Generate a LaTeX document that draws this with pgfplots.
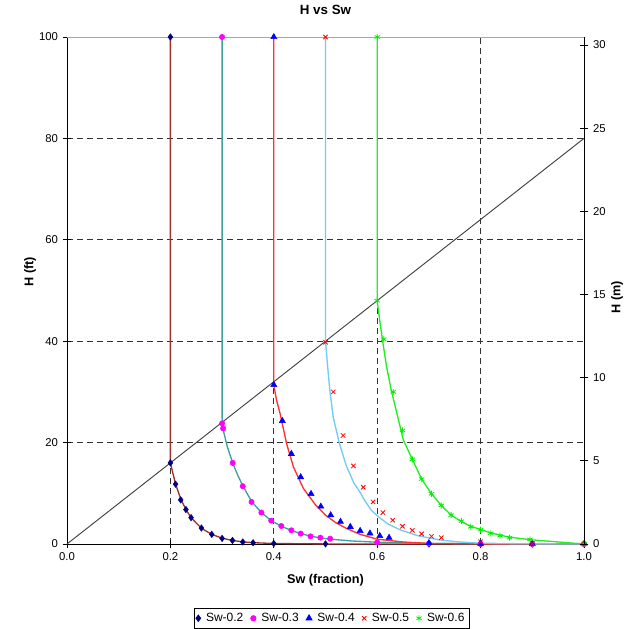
\documentclass[border=0pt]{standalone}
\usepackage{fontspec}
\setmainfont{Liberation Sans}
\usepackage{pgfplots}
\pgfplotsset{compat=1.18}

% marker colours
\definecolor{mkA}{HTML}{000080}
\definecolor{mkB}{HTML}{FF00FF}
\definecolor{mkC}{HTML}{0000FF}
\definecolor{mkD}{HTML}{FF0000}
\definecolor{mkE}{HTML}{00EE00}
% curve colours
\definecolor{lnA}{HTML}{A03030}
\definecolor{lnB}{HTML}{40A0A0}
\definecolor{lnC}{HTML}{FF3030}
\definecolor{lnD}{HTML}{70CCF0}
\definecolor{lnE}{HTML}{22EE22}

\begin{document}
\begin{tikzpicture}
\useasboundingbox (-50.25pt,-63.75pt) rectangle (432.75pt,408pt);

\begin{axis}[
  at={(0,0)}, anchor=south west,
  scale only axis, width=387.75pt, height=380.25pt,
  xmin=0, xmax=1, ymin=0, ymax=100,
  clip=false,
  axis x line*=bottom, axis y line*=left,
  axis line style={black, line width=0.7pt},
  xtick={0,0.2,...,1.0}, ytick={0,20,...,100},
  minor xtick={0.2,0.4,0.6,0.8}, minor ytick={20,40,60,80},
  grid=minor,
  minor grid style={black!80, line width=0.8pt, dash pattern=on 4.5pt off 3pt},
  minor tick length=0pt,
  tick align=center, major tick length=6.5pt,
  tick style={black, line width=0.7pt},
  /pgf/number format/assume math mode=true,
  tick label style={font=\fontsize{8.5}{10}\selectfont},
  xticklabel style={/pgf/number format/.cd, fixed, fixed zerofill, precision=1},
  yticklabel style={/pgf/number format/.cd, fixed, precision=0},
  title={\textbf{H vs Sw}},
  title style={at={(0.5,1)}, anchor=center, yshift=14pt, font=\fontsize{10}{12}\selectfont},
  xlabel={\textbf{Sw (fraction)}},
  xlabel style={at={(0.5,0)}, anchor=center, yshift=-27pt, font=\fontsize{9.5}{11}\selectfont},
  ylabel={\textbf{H (ft)}},
  ylabel style={at={(0,0.5)}, anchor=center, yshift=27.75pt, xshift=14pt, font=\fontsize{9.5}{11}\selectfont},
  legend style={at={(0.5,0)}, anchor=north, xshift=4.5pt, yshift=-48pt,
    legend columns=5, draw=black, line width=0.6pt,
    font=\fontsize{9}{10}\selectfont, inner sep=1.5pt,
    /tikz/every even column/.append style={column sep=3.5pt},
    /tikz/every odd column/.append style={column sep=2pt}},
  legend cell align=left,
]
% frame along the top of the plot area
\draw[gray!70, line width=0.6pt] (rel axis cs:0,1) -- (rel axis cs:1,1);

% reference line H = 80 Sw
\addplot[forget plot, black!75, line width=0.7pt] coordinates {(0,0) (1,80)};

% capillary curves
\addplot[forget plot, lnA, line width=1pt] coordinates {
 (0.2,100) (0.2,16) (0.21,11.8) (0.22,8.9) (0.23,6.8) (0.24,5.2) (0.26,3.1)
 (0.28,1.9) (0.30,1.15) (0.32,0.7) (0.34,0.42) (0.36,0.26) (0.40,0.1)
 (0.5,0.01) (1.0,0)};
\addplot[forget plot, lnB, line width=1pt] coordinates {
 (0.3,100) (0.3,25) (0.302,22.6) (0.31,19.2) (0.3205,16.0) (0.33,13.6)
 (0.34,11.5) (0.357,8.4) (0.376,6.2) (0.395,4.6) (0.415,3.5) (0.434,2.65)
 (0.452,2.05) (0.471,1.55) (0.49,1.2) (0.51,0.95) (0.55,0.6) (0.6,0.35)
 (0.7,0.12) (0.8,0.04) (0.9,0.01) (1.0,0)};
\addplot[forget plot, lnC, line width=1pt] coordinates {
 (0.4,100) (0.4,31.4) (0.405,28.5) (0.412,25.8) (0.425,19.7) (0.438,15.2)
 (0.457,11.0) (0.48,7.8) (0.50,5.7) (0.52,4.2) (0.54,3.1) (0.567,1.9)
 (0.60,0.95) (0.65,0.4) (0.70,0.12) (0.8,0.03) (1.0,0)};
\addplot[forget plot, lnD, line width=1pt] coordinates {
 (0.5,100) (0.5,40) (0.505,34) (0.5087,30) (0.515,25) (0.527,19.8)
 (0.54,15.5) (0.555,12) (0.567,10.2) (0.575,8.7) (0.589,6.6) (0.602,5.4)
 (0.62,4.0) (0.644,2.8) (0.68,1.6) (0.721,0.8) (0.76,0.4) (0.8,0.15)
 (0.9,0.03) (1.0,0)};
\addplot[forget plot, lnE, line width=1pt] coordinates {
 (0.6,100) (0.6,48) (0.605,44) (0.6106,40) (0.618,35) (0.628,30)
 (0.6506,20.5) (0.667,16.9) (0.686,12.8) (0.705,9.9) (0.725,7.5)
 (0.743,5.7) (0.763,4.4) (0.781,3.5) (0.802,2.8) (0.82,2.2) (0.8375,1.75)
 (0.856,1.35) (0.8955,0.85) (0.95,0.4) (1.0,0)};

% measured points
\addplot[only marks, mark=diamond*, mark size=2.4pt, color=mkA] coordinates {
 (0.2,100) (0.2,16) (0.21,11.8) (0.22,8.7) (0.23,6.8) (0.24,5.2) (0.26,3.15)
 (0.28,1.9) (0.30,1.1) (0.32,0.7) (0.34,0.4) (0.36,0.25) (0.40,0.1)
 (0.5,0.02) (0.7,0) (0.8,0) (0.9,0) (1.0,0)};
\addlegendentry{Sw-0.2}
\addplot[only marks, mark=*, mark size=2pt, color=mkB] coordinates {
 (0.3,100) (0.3,23.8) (0.302,22.8) (0.3205,16.0) (0.340,11.4) (0.357,8.3)
 (0.376,6.2) (0.395,4.6) (0.4145,3.55) (0.434,2.7) (0.452,2.05) (0.471,1.5)
 (0.49,1.25) (0.509,1.05) (0.6,0.33) (0.7,0.1) (0.8,0.03) (0.9,0) (1.0,0)};
\addlegendentry{Sw-0.3}
\addplot[only marks, mark=triangle*, mark size=2.6pt, color=mkC] coordinates {
 (0.4,100) (0.4,31.4) (0.4165,24.3) (0.434,17.8) (0.452,13.2) (0.472,9.9)
 (0.491,7.4) (0.510,5.7) (0.529,4.4) (0.548,3.4) (0.567,2.6) (0.586,2.1)
 (0.605,1.6) (0.623,1.25) (0.7,0.2) (0.8,0.05) (0.9,0) (1.0,0)};
\addlegendentry{Sw-0.4}
\addplot[only marks, mark=x, mark size=2.3pt, line width=0.6pt, color=mkD] coordinates {
 (0.5,100) (0.5,39.8) (0.515,30.0) (0.534,21.4) (0.554,15.4) (0.573,11.2)
 (0.592,8.3) (0.611,6.2) (0.630,4.7) (0.649,3.5) (0.668,2.7) (0.686,2.0)
 (0.705,1.5) (0.724,1.25) (0.8,0.45) (0.9,0.1) (1.0,0)};
\addlegendentry{Sw-0.5}
\addplot[only marks, mark=asterisk, mark size=2.3pt, line width=0.6pt, color=mkE] coordinates {
 (0.6,100) (0.6,48) (0.6126,40.4) (0.631,30.0) (0.649,22.4) (0.668,16.7)
 (0.686,12.8) (0.705,9.9) (0.724,7.6) (0.743,5.7) (0.763,4.5) (0.781,3.4)
 (0.80,2.8) (0.8196,2.1) (0.8375,1.65) (0.856,1.25) (0.8955,0.9) (1.0,0)};
\addlegendentry{Sw-0.6}
\end{axis}

% metric height scale on the right
\begin{axis}[
  at={(0,0)}, anchor=south west,
  scale only axis, width=387.75pt, height=380.25pt,
  xmin=0, xmax=1, ymin=0, ymax=30.48,
  axis x line=none, axis y line*=right,
  axis line style={black, line width=0.7pt},
  ytick={0,5,...,30},
  tick align=center, major tick length=6.5pt,
  tick style={black, line width=0.7pt},
  /pgf/number format/assume math mode=true,
  tick label style={font=\fontsize{8.5}{10}\selectfont},
  yticklabel style={/pgf/number format/.cd, fixed, precision=0},
  ylabel={\textbf{H (m)}},
  ylabel style={at={(1,0.5)}, anchor=center, yshift=-24.75pt, xshift=-5pt, font=\fontsize{9.5}{11}\selectfont},
]
\addplot[draw=none, forget plot] coordinates {(0,0)};
\end{axis}
\end{tikzpicture}
\end{document}
